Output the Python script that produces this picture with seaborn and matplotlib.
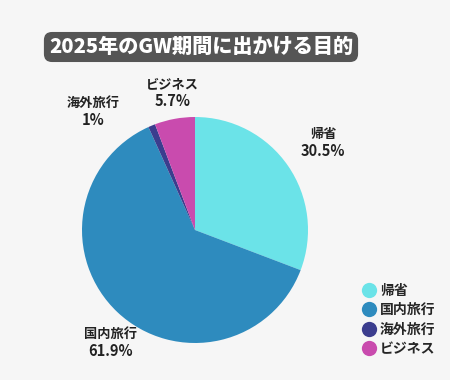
import matplotlib
matplotlib.use("Agg")
import matplotlib.pyplot as plt
import seaborn as sns
import numpy as np
from matplotlib.lines import Line2D

# Data
categories = ["帰省", "国内旅行", "海外旅行", "ビジネス"]
shares = [30.5, 61.9, 1.0, 5.7]
share_labels = ["30.5%", "61.9%", "1%", "5.7%"]
colors = ["#6BE3E8", "#2E8BBE", "#3B3D8E", "#C94BAE"]

TITLE = "2025年のGW期間に出かける目的"
BG = "#F6F6F6"

sns.set_theme(style="white")
plt.rcParams["font.family"] = ["Noto Sans CJK JP", "DejaVu Sans"]

fig = plt.figure(figsize=(4.5, 3.8), dpi=100, facecolor=BG)
ax = fig.add_axes([82 / 450, 37 / 380, 226 / 450, 226 / 380])
ax.set_facecolor(BG)

palette = sns.color_palette(colors)
wedges, _ = ax.pie(shares, colors=palette, startangle=90, counterclock=False,
                   radius=1.0, wedgeprops=dict(linewidth=0))
ax.set_xlim(-1, 1)
ax.set_ylim(-1, 1)
ax.set_aspect("equal")
ax.axis("off")

# label placement: (distance in radii, angle tweak in degrees)
label_place = [(1.38, 0), (1.24, 6), (1.39, 18), (1.24, -1)]
for w, cat, lab, (dist, tweak) in zip(wedges, categories, share_labels, label_place):
    ang = np.deg2rad((w.theta1 + w.theta2) / 2 + tweak)
    x, y = dist * np.cos(ang), dist * np.sin(ang)
    ax.text(x, y + 0.005, cat, ha="center", va="bottom", fontsize=9.5,
            fontweight="bold", color="#222222")
    ax.text(x, y - 0.01, lab, ha="center", va="top", fontsize=10.5,
            fontweight="bold", color="#222222")

# title in a dark rounded box
fig.text(201 / 450, 1 - 47 / 380, TITLE, ha="center", va="center",
         fontsize=14.5, fontweight="heavy", color="white",
         bbox=dict(boxstyle="round,pad=0.25,rounding_size=0.4",
                   facecolor="#555555", edgecolor="none"))

handles = [Line2D([0], [0], marker="o", linestyle="", markersize=11,
                  markerfacecolor=c, markeredgecolor="none") for c in colors]
fig.legend(handles, categories, loc="upper left",
           bbox_to_anchor=(356 / 450, 1 - 278 / 380), frameon=False,
           prop=dict(size=10, weight="bold"), handletextpad=0.3,
           labelspacing=0.4, borderaxespad=0, handlelength=1.0)

fig.savefig("out.png", dpi=100, facecolor=BG)
